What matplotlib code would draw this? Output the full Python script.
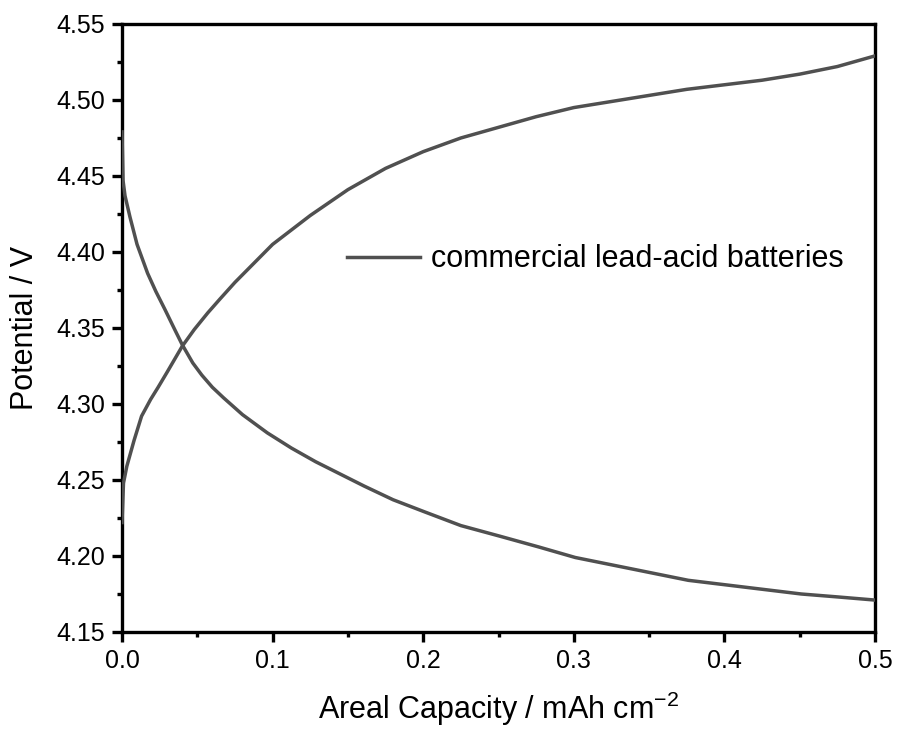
import matplotlib.pyplot as plt
from matplotlib.ticker import MultipleLocator, FormatStrFormatter

plt.rcParams['font.family'] = ['Liberation Sans', 'DejaVu Sans']
plt.rcParams['mathtext.fontset'] = 'custom'
plt.rcParams['mathtext.rm'] = 'Liberation Sans'
plt.rcParams['mathtext.default'] = 'regular'

# charge curve (potential rises with capacity)
charge_x = [0.0, 0.001, 0.0032, 0.008, 0.013, 0.019, 0.024, 0.030, 0.040, 0.048,
            0.057, 0.065, 0.075, 0.085, 0.1, 0.125, 0.15, 0.175, 0.2, 0.225,
            0.25, 0.275, 0.3, 0.325, 0.35, 0.375, 0.4, 0.425, 0.45, 0.475, 0.5]
charge_y = [4.222, 4.248, 4.259, 4.276, 4.292, 4.303, 4.311, 4.321, 4.338, 4.349,
            4.360, 4.369, 4.380, 4.390, 4.405, 4.424, 4.441, 4.455, 4.466, 4.475,
            4.482, 4.489, 4.495, 4.499, 4.503, 4.507, 4.510, 4.513, 4.517, 4.522, 4.529]

# discharge curve (potential falls with capacity)
discharge_x = [0.0, 0.0007, 0.002, 0.0053, 0.010, 0.017, 0.0225, 0.0286, 0.035,
               0.040, 0.047, 0.053, 0.060, 0.0675, 0.080, 0.0965, 0.1125, 0.1286,
               0.1447, 0.1608, 0.180, 0.201, 0.225, 0.251, 0.2765, 0.301, 0.326,
               0.351, 0.376, 0.401, 0.426, 0.451, 0.476, 0.5]
discharge_y = [4.479, 4.447, 4.437, 4.423, 4.405, 4.386, 4.374, 4.362, 4.349,
               4.339, 4.327, 4.319, 4.311, 4.304, 4.293, 4.281, 4.271, 4.262,
               4.254, 4.246, 4.237, 4.229, 4.220, 4.213, 4.206, 4.199, 4.194,
               4.189, 4.184, 4.181, 4.178, 4.175, 4.173, 4.171]

label = "commercial lead-acid batteries"
line_color = "#505050"

fig = plt.figure(figsize=(8.97, 7.33), dpi=100)
ax = fig.add_axes([0.136, 0.1378, 0.8395, 0.8295])

ax.plot(charge_x, charge_y, color=line_color, lw=2.5, label=label, zorder=3)
ax.plot(discharge_x, discharge_y, color=line_color, lw=2.5, zorder=3)

ax.set_xlim(0, 0.5)
ax.set_ylim(4.15, 4.55)
ax.xaxis.set_major_locator(MultipleLocator(0.1))
ax.xaxis.set_minor_locator(MultipleLocator(0.05))
ax.yaxis.set_major_locator(MultipleLocator(0.05))
ax.yaxis.set_minor_locator(MultipleLocator(0.025))
ax.xaxis.set_major_formatter(FormatStrFormatter('%.1f'))
ax.yaxis.set_major_formatter(FormatStrFormatter('%.2f'))

ax.tick_params(which='both', direction='out', width=2.4, labelsize=18,
               top=False, right=False)
ax.tick_params(which='major', length=7, pad=5)
ax.tick_params(which='minor', length=3.5)
for s in ax.spines.values():
    s.set_linewidth(2.4)

ax.set_xlabel("Areal Capacity / mAh cm$^{-2}$", fontsize=22, labelpad=12)
ax.set_ylabel("Potential / V", fontsize=22, labelpad=12)

ax.legend(loc='upper left', bbox_to_anchor=(0.262, 0.683), frameon=False,
          fontsize=22, handlelength=2.4, handletextpad=0.35)

fig.savefig("out.png", dpi=100)
